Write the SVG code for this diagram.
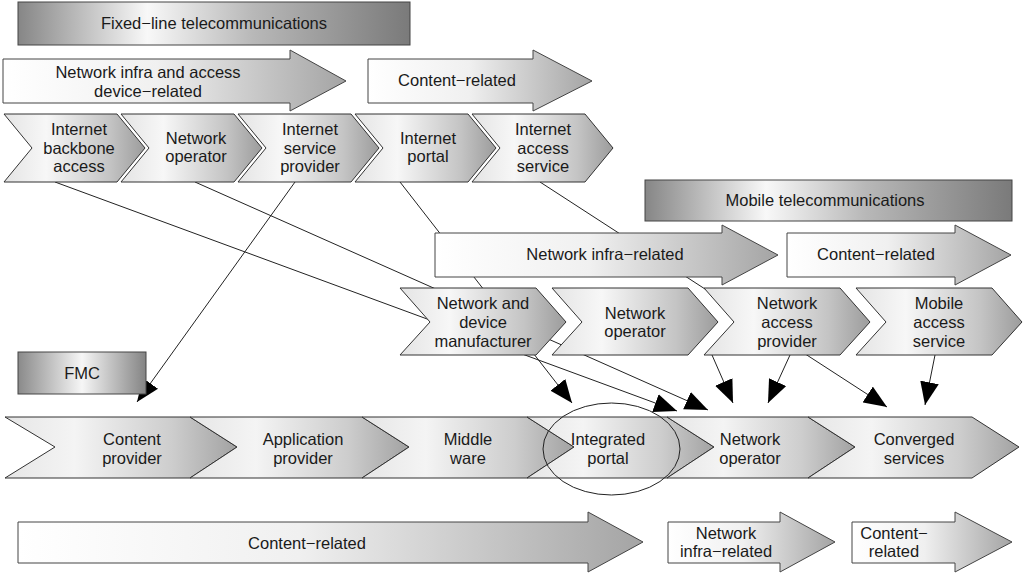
<svg xmlns="http://www.w3.org/2000/svg" width="1024" height="573" viewBox="0 0 1024 573">
<defs>
<linearGradient id="gHead" x1="0" y1="0" x2="1" y2="0">
<stop offset="0" stop-color="#868686"/><stop offset="0.33" stop-color="#f8f8f8"/><stop offset="0.6" stop-color="#b8b8b8"/><stop offset="1" stop-color="#7a7a7a"/>
</linearGradient>
<linearGradient id="gFmc" x1="0" y1="0" x2="1" y2="0">
<stop offset="0" stop-color="#8a8a8a"/><stop offset="0.5" stop-color="#f6f6f6"/><stop offset="1" stop-color="#848484"/>
</linearGradient>
<linearGradient id="gArrow" x1="0" y1="0" x2="1" y2="0">
<stop offset="0" stop-color="#ffffff"/><stop offset="0.45" stop-color="#f0f0f0"/><stop offset="1" stop-color="#a4a4a4"/>
</linearGradient>
<linearGradient id="gChev" x1="0" y1="0" x2="1" y2="0">
<stop offset="0" stop-color="#e4e4e4"/><stop offset="0.3" stop-color="#f7f7f7"/><stop offset="0.75" stop-color="#c4c4c4"/><stop offset="1" stop-color="#9c9c9c"/>
</linearGradient>
<linearGradient id="gSeg" x1="0" y1="0" x2="1" y2="0">
<stop offset="0" stop-color="#e6e6e6"/><stop offset="0.3" stop-color="#f4f4f4"/><stop offset="0.72" stop-color="#cdcdcd"/><stop offset="1" stop-color="#a2a2a2"/>
</linearGradient>
<marker id="ah" viewBox="0 0 22 18" refX="22" refY="9" markerWidth="23" markerHeight="19" markerUnits="userSpaceOnUse" orient="auto">
<path d="M0,0 L22,9 L0,18 z" fill="#000"/>
</marker>
</defs>
<style>
text{font-family:"Liberation Sans",Arial,sans-serif;font-size:16.5px;fill:#1a1a1a;text-anchor:middle;dominant-baseline:central}
.hd{fill:url(#gHead);stroke:#444;stroke-width:1}
.fmc{fill:url(#gFmc);stroke:#444;stroke-width:1}
.ar{fill:url(#gArrow);stroke:#444;stroke-width:1}
.ch{fill:url(#gChev);stroke:#333;stroke-width:1}
.sg{fill:url(#gSeg);stroke:#333;stroke-width:1}
.cna{stroke:#222;stroke-width:1;fill:none;marker-end:url(#ah)}
</style>
<rect width="1024" height="573" fill="#fff"/>

<g id="connectors">
<line class="cna" x1="55" y1="182" x2="677" y2="411"/>
<line class="cna" x1="195" y1="182" x2="708" y2="410"/>
<line class="cna" x1="295" y1="182" x2="137" y2="402"/>
<line class="cna" x1="400" y1="182" x2="572" y2="403"/>
<line class="cna" x1="540" y1="182" x2="887" y2="407"/>
<line class="cna" x1="712" y1="355" x2="733" y2="403"/>
<line class="cna" x1="790" y1="355" x2="768" y2="403"/>
<line class="cna" x1="935" y1="355" x2="925" y2="405"/>
</g>

<g id="fixed-line-header"><rect class="hd" x="18" y="2" width="392" height="43"/><text x="214" y="23">Fixed−line telecommunications</text></g>
<g id="fixed-netinfra"><polygon class="ar" points="3,59 290,59 290,50 346,81 290,111 290,103 3,103"/><text x="148" y="72">Network infra and access</text><text x="148" y="91">device−related</text></g>
<g id="fixed-content"><polygon class="ar" points="368,59 533,59 533,50 592,81 533,111 533,103 368,103"/><text x="457" y="80">Content−related</text></g>

<g id="internet-backbone"><polygon class="ch" points="4,114 117,114 145,148 117,182 4,182 32,148"/><text x="79" y="129">Internet</text><text x="79" y="148">backbone</text><text x="79" y="166">access</text></g>
<g id="fixed-network-operator"><polygon class="ch" points="121,114 234,114 262,148 234,182 121,182 149,148"/><text x="196" y="138">Network</text><text x="196" y="156">operator</text></g>
<g id="isp"><polygon class="ch" points="238,114 351,114 379,148 351,182 238,182 266,148"/><text x="310" y="129">Internet</text><text x="310" y="148">service</text><text x="310" y="166">provider</text></g>
<g id="internet-portal"><polygon class="ch" points="355,114 468,114 496,148 468,182 355,182 383,148"/><text x="428" y="138">Internet</text><text x="428" y="156">portal</text></g>
<g id="internet-access"><polygon class="ch" points="472,114 585,114 613,148 585,182 472,182 500,148"/><text x="543" y="129">Internet</text><text x="543" y="148">access</text><text x="543" y="166">service</text></g>

<g id="mobile-header"><rect class="hd" x="645" y="180" width="367" height="41"/><text x="825" y="200">Mobile telecommunications</text></g>
<g id="mobile-netinfra"><polygon class="ar" points="435,233 722,233 722,225 778,255 722,285 722,277 435,277"/><text x="605" y="254">Network infra−related</text></g>
<g id="mobile-content"><polygon class="ar" points="787,233 955,233 955,225 1011,255 955,285 955,277 787,277"/><text x="876" y="254">Content−related</text></g>

<g id="device-manufacturer"><polygon class="ch" points="400,288 536,288 566,322 536,355 400,355 430,322"/><text x="483" y="303">Network and</text><text x="483" y="322">device</text><text x="483" y="341">manufacturer</text></g>
<g id="mobile-network-operator"><polygon class="ch" points="552,288 688,288 718,322 688,355 552,355 582,322"/><text x="635" y="313">Network</text><text x="635" y="331">operator</text></g>
<g id="network-access-provider"><polygon class="ch" points="704,288 840,288 870,322 840,355 704,355 734,322"/><text x="787" y="303">Network</text><text x="787" y="322">access</text><text x="787" y="341">provider</text></g>
<g id="mobile-access-service"><polygon class="ch" points="856,288 992,288 1022,322 992,355 856,355 886,322"/><text x="939" y="303">Mobile</text><text x="939" y="322">access</text><text x="939" y="341">service</text></g>

<g id="fmc-header"><rect class="fmc" x="18" y="352" width="128" height="42"/><text x="82" y="373">FMC</text></g>

<g id="content-provider"><polygon class="sg" points="5,417 190,417 237,447 190,478 5,478 55,447"/><text x="132" y="439">Content</text><text x="132" y="458">provider</text></g>
<g id="application-provider"><polygon class="sg" points="190,417 362,417 409,447 362,478 190,478 237,447"/><text x="303" y="439">Application</text><text x="303" y="458">provider</text></g>
<g id="middleware"><polygon class="sg" points="362,417 527,417 574,447 527,478 362,478 409,447"/><text x="468" y="439">Middle</text><text x="468" y="458">ware</text></g>
<g id="integrated-portal"><polygon class="sg" points="527,417 667,417 714,447 667,478 527,478 574,447"/><text x="608" y="439">Integrated</text><text x="608" y="458">portal</text><ellipse cx="611.5" cy="449" rx="68.5" ry="46" fill="none" stroke="#222" stroke-width="1"/></g>
<g id="fmc-network-operator"><polygon class="sg" points="667,417 808,417 855,447 808,478 667,478 714,447"/><text x="750" y="439">Network</text><text x="750" y="458">operator</text></g>
<g id="converged-services"><polygon class="sg" points="808,417 972,417 1019,447 972,478 808,478 855,447"/><text x="914" y="439">Converged</text><text x="914" y="458">services</text></g>

<g id="fmc-content"><polygon class="ar" points="18,522 588,522 588,512 643,542 588,572 588,563 18,563"/><text x="307" y="543">Content−related</text></g>
<g id="fmc-netinfra"><polygon class="ar" points="668,522 780,522 780,512 835,542 780,572 780,563 668,563"/><text x="726" y="533">Network</text><text x="726" y="551">infra−related</text></g>
<g id="fmc-content2"><polygon class="ar" points="852,522 955,522 955,512 1012,542 955,572 955,563 852,563"/><text x="894" y="533">Content−</text><text x="894" y="551">related</text></g>
</svg>
